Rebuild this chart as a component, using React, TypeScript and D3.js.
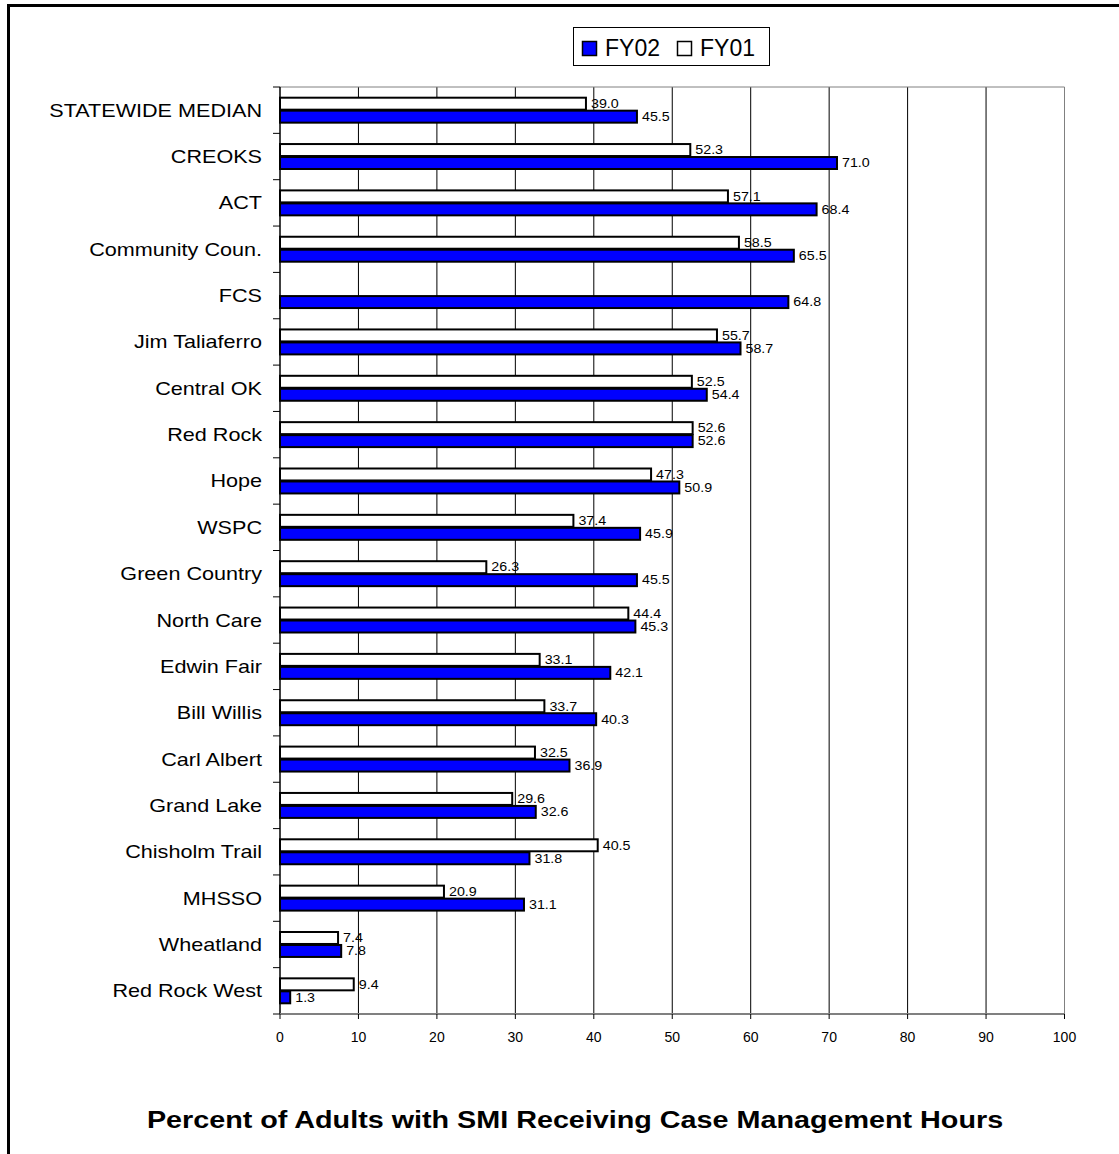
import React from "react";
import * as d3 from "d3";

const categories = [
  "STATEWIDE MEDIAN", "CREOKS", "ACT", "Community Coun.", "FCS", "Jim Taliaferro",
  "Central OK", "Red Rock", "Hope", "WSPC", "Green Country", "North Care",
  "Edwin Fair", "Bill Willis", "Carl Albert", "Grand Lake", "Chisholm Trail",
  "MHSSO", "Wheatland", "Red Rock West",
];
const fy01: (number | null)[] = [
  39.0, 52.3, 57.1, 58.5, null, 55.7, 52.5, 52.6, 47.3, 37.4, 26.3, 44.4,
  33.1, 33.7, 32.5, 29.6, 40.5, 20.9, 7.4, 9.4,
];
const fy02: (number | null)[] = [
  45.5, 71.0, 68.4, 65.5, 64.8, 58.7, 54.4, 52.6, 50.9, 45.9, 45.5, 45.3,
  42.1, 40.3, 36.9, 32.6, 31.8, 31.1, 7.8, 1.3,
];
const seriesNames = ["FY01", "FY02"];
const legendOrder = ["FY02", "FY01"];
const seriesColors: Record<string, string> = { FY01: "#FFFFFF", FY02: "#0000FF" };
const xTicks = [0, 10, 20, 30, 40, 50, 60, 70, 80, 90, 100];
const title = "Percent of Adults with SMI Receiving Case Management Hours";

const W = 1119, H = 1154;
const plot = { left: 280, right: 1064.5, top: 87, bottom: 1014 };
const FONT = "Arial, 'Liberation Sans', sans-serif";

export default function App() {
  const x = d3.scaleLinear().domain([0, 100]).range([plot.left, plot.right]);
  const y = d3.scaleBand<string>().domain(categories).range([plot.top, plot.bottom])
    .paddingInner(0.44).paddingOuter(0.22);
  const sub = d3.scaleBand<string>().domain(seriesNames).range([0, y.bandwidth()]);
  const step = y.step();
  const values: Record<string, (number | null)[]> = { FY01: fy01, FY02: fy02 };

  return (
    <svg width={W} height={H} style={{ position: "absolute", left: 0, top: 0, background: "#fff" }}
      fontFamily={FONT}>
      <rect x={0} y={0} width={W} height={H} fill="#fff" />
      {/* outer frame */}
      <path d={`M8.5,${H + 5} V5.5 H${W + 5}`} fill="none" stroke="#000" strokeWidth={3} />

      {/* gridlines */}
      {xTicks.filter(t => t > 0).map(t => (
        <line key={"g" + t} x1={x(t)} x2={x(t)} y1={plot.top} y2={plot.bottom}
          stroke={t === 100 ? "#808080" : "#000"} strokeWidth={1} />
      ))}
      <line x1={plot.left} x2={plot.right} y1={plot.top} y2={plot.top} stroke="#808080" strokeWidth={1} />

      {/* bars */}
      {categories.map((c, i) => (
        <g key={c}>
          {seriesNames.map(s => {
            const v = values[s][i];
            if (v == null) return null;
            const by = (y(c) as number) + (sub(s) as number);
            const bh = sub.bandwidth();
            return (
              <g key={s}>
                <rect x={x(0)} y={by + 0.5} width={x(v) - x(0)} height={bh - 1}
                  fill={seriesColors[s]} stroke="#000" strokeWidth={2} />
                <text transform={`translate(${x(v) + 5},${by + bh / 2 + 4.3}) scale(1.19,1)`}
                  fontSize={12} fill="#000">{v.toFixed(1)}</text>
              </g>
            );
          })}
        </g>
      ))}

      {/* left axis */}
      <line x1={plot.left} x2={plot.left} y1={plot.top} y2={plot.bottom} stroke="#000" strokeWidth={1.5} />
      {d3.range(categories.length + 1).map(i => (
        <line key={"lt" + i} x1={plot.left - 7} x2={plot.left} y1={plot.top + i * step} y2={plot.top + i * step}
          stroke="#000" strokeWidth={1} />
      ))}
      {categories.map(c => (
        <text key={"cl" + c}
          transform={`translate(262,${(y(c) as number) + y.bandwidth() / 2 + 6.5}) scale(1.2,1)`}
          textAnchor="end" fontSize={18} fill="#000">{c}</text>
      ))}

      {/* bottom axis */}
      <line x1={plot.left} x2={plot.right} y1={plot.bottom} y2={plot.bottom} stroke="#808080" strokeWidth={2} />
      {xTicks.map(t => (
        <g key={"bt" + t}>
          <line x1={x(t)} x2={x(t)} y1={plot.bottom} y2={plot.bottom + 5} stroke="#000" strokeWidth={1} />
          <text x={x(t)} y={plot.bottom + 27.5} textAnchor="middle" fontSize={14} fill="#000">{t}</text>
        </g>
      ))}

      {/* legend */}
      <rect x={573.5} y={27.5} width={196} height={38} fill="#fff" stroke="#000" strokeWidth={1} />
      {legendOrder.map((s, i) => (
        <g key={"lg" + s} transform={`translate(${582 + i * 95},0)`}>
          <rect x={0.5} y={41.5} width={14} height={14} fill={seriesColors[s]} stroke="#000" strokeWidth={1.5} />
          <text x={23} y={56} fontSize={23} fill="#000">{s}</text>
        </g>
      ))}

      {/* title */}
      <text transform={`translate(575,1128) scale(1.25,1)`} textAnchor="middle" fontSize={23}
        fontWeight="bold" fill="#000">{title}</text>
    </svg>
  );
}
